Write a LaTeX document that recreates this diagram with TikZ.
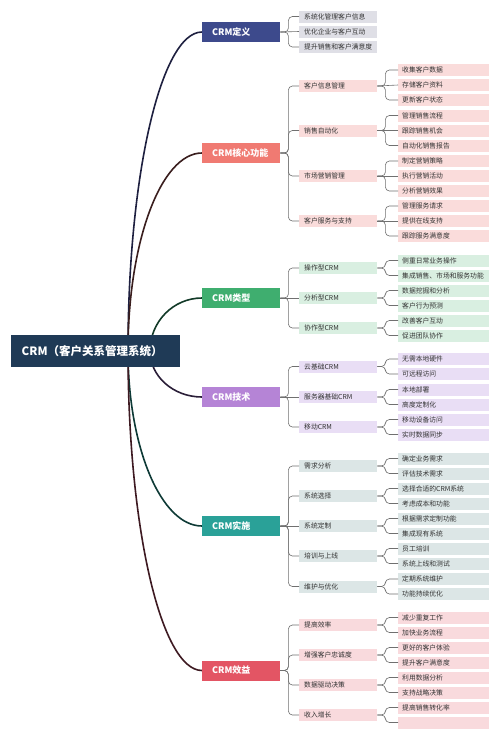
\documentclass[tikz,border=0pt]{standalone}
\usepackage{fontspec}
\setmainfont{Noto Sans CJK SC}
\usetikzlibrary{backgrounds}
\definecolor{rootc}{HTML}{1F3A56}
\definecolor{defc}{HTML}{3D4A8C}
\definecolor{defl}{HTML}{DFDFE6}
\definecolor{corec}{HTML}{F07A72}
\definecolor{corel}{HTML}{FADCDB}
\definecolor{typec}{HTML}{3FAE6F}
\definecolor{typel}{HTML}{D9EFE1}
\definecolor{techc}{HTML}{B584D6}
\definecolor{techl}{HTML}{E9DEF5}
\definecolor{implc}{HTML}{2AA198}
\definecolor{impll}{HTML}{DCE6E6}
\definecolor{benc}{HTML}{E35564}
\definecolor{benl}{HTML}{F9DADD}
\definecolor{txtc}{HTML}{333333}
\definecolor{linec}{HTML}{707070}
\definecolor{mdef}{HTML}{1E2040}
\definecolor{mcore}{HTML}{3A1E1E}
\definecolor{mtype}{HTML}{123A28}
\definecolor{mtech}{HTML}{2A1E38}
\definecolor{mimpl}{HTML}{0E3A36}
\definecolor{mben}{HTML}{3E1A22}
\newcommand{\brc}[2]{\draw[brline] (#1.east) -- ++(8,0) |- (#2.west);}
\newcommand{\brs}[2]{\draw[brline] (#1.east) -- (#2.west);}
\begin{document}
\begin{tikzpicture}[x=1pt,y=-1pt,
  rootbox/.style={fill=rootc,text=white,font=\bfseries\fontsize{11.5}{13}\selectfont,
    inner xsep=10.5pt,inner ysep=0pt,text width=148pt,align=left,minimum height=32pt,anchor=west},
  lonebox/.style={text=white,font=\bfseries\fontsize{9}{10}\selectfont,
    inner xsep=10pt,inner ysep=0pt,text width=58pt,align=left,minimum height=20pt,anchor=west},
  ltwobox/.style={text=txtc,font=\fontsize{6.8}{7.5}\selectfont,
    inner xsep=5pt,inner ysep=0pt,text width=68pt,align=left,minimum height=12pt,anchor=west},
  leafbox/.style={text=txtc,font=\fontsize{6.8}{7.5}\selectfont,
    inner xsep=4pt,inner ysep=0pt,text width=83pt,align=left,minimum height=12pt,anchor=west},
  mainline/.style={line width=1.6pt},
  brline/.style={draw=linec,line width=0.6pt,rounded corners=4pt}]
\useasboundingbox (0,0) rectangle (500,740);

% root
\node[rootbox] (root) at (11,351) {CRM（客户关系管理系统）};
\coordinate (hubA) at (128,351);
\coordinate (hubB) at (150,351);

% level 1
\node[lonebox,fill=defc] (def) at (202,32) {CRM定义};
\node[lonebox,fill=corec] (core) at (202,153) {CRM核心功能};
\node[lonebox,fill=typec] (type) at (202,298) {CRM类型};
\node[lonebox,fill=techc] (tech) at (202,397) {CRM技术};
\node[lonebox,fill=implc] (impl) at (202,526) {CRM实施};
\node[lonebox,fill=benc] (ben) at (202,670.5) {CRM效益};

% definition
\node[ltwobox,fill=defl] (d1) at (299,16.5) {系统化管理客户信息};
\node[ltwobox,fill=defl] (d2) at (299,31.5) {优化企业与客户互动};
\node[ltwobox,fill=defl] (d3) at (299,47) {提升销售和客户满意度};

% core
\node[ltwobox,fill=corel] (c1) at (299,86) {客户信息管理};
\node[ltwobox,fill=corel] (c2) at (299,130.5) {销售自动化};
\node[ltwobox,fill=corel] (c3) at (299,176) {市场营销管理};
\node[ltwobox,fill=corel] (c4) at (299,221) {客户服务与支持};
\node[leafbox,fill=corel] (c1a) at (398,70) {收集客户数据};
\node[leafbox,fill=corel] (c1b) at (398,85) {存储客户资料};
\node[leafbox,fill=corel] (c1c) at (398,100) {更新客户状态};
\node[leafbox,fill=corel] (c2a) at (398,115.5) {管理销售流程};
\node[leafbox,fill=corel] (c2b) at (398,130.5) {跟踪销售机会};
\node[leafbox,fill=corel] (c2c) at (398,145.5) {自动化销售报告};
\node[leafbox,fill=corel] (c3a) at (398,161) {制定营销策略};
\node[leafbox,fill=corel] (c3b) at (398,176) {执行营销活动};
\node[leafbox,fill=corel] (c3c) at (398,191) {分析营销效果};
\node[leafbox,fill=corel] (c4a) at (398,206) {管理服务请求};
\node[leafbox,fill=corel] (c4b) at (398,221) {提供在线支持};
\node[leafbox,fill=corel] (c4c) at (398,236) {跟踪服务满意度};

% type
\node[ltwobox,fill=typel] (t1) at (299,268) {操作型CRM};
\node[ltwobox,fill=typel] (t2) at (299,298) {分析型CRM};
\node[ltwobox,fill=typel] (t3) at (299,328) {协作型CRM};
\node[leafbox,fill=typel] (t1a) at (398,260.5) {侧重日常业务操作};
\node[leafbox,fill=typel] (t1b) at (398,275.5) {集成销售、市场和服务功能};
\node[leafbox,fill=typel] (t2a) at (398,290.5) {数据挖掘和分析};
\node[leafbox,fill=typel] (t2b) at (398,305.5) {客户行为预测};
\node[leafbox,fill=typel] (t3a) at (398,320.5) {改善客户互动};
\node[leafbox,fill=typel] (t3b) at (398,335.5) {促进团队协作};

% tech
\node[ltwobox,fill=techl] (k1) at (299,366.5) {云基础CRM};
\node[ltwobox,fill=techl] (k2) at (299,397) {服务器基础CRM};
\node[ltwobox,fill=techl] (k3) at (299,427) {移动CRM};
\node[leafbox,fill=techl] (k1a) at (398,359) {无需本地硬件};
\node[leafbox,fill=techl] (k1b) at (398,374) {可远程访问};
\node[leafbox,fill=techl] (k2a) at (398,389.5) {本地部署};
\node[leafbox,fill=techl] (k2b) at (398,404.5) {高度定制化};
\node[leafbox,fill=techl] (k3a) at (398,419.5) {移动设备访问};
\node[leafbox,fill=techl] (k3b) at (398,434.5) {实时数据同步};

% implementation
\node[ltwobox,fill=impll] (m1) at (299,466) {需求分析};
\node[ltwobox,fill=impll] (m2) at (299,496) {系统选择};
\node[ltwobox,fill=impll] (m3) at (299,526) {系统定制};
\node[ltwobox,fill=impll] (m4) at (299,556) {培训与上线};
\node[ltwobox,fill=impll] (m5) at (299,586.5) {维护与优化};
\node[leafbox,fill=impll] (m1a) at (398,458.5) {确定业务需求};
\node[leafbox,fill=impll] (m1b) at (398,473.5) {评估技术需求};
\node[leafbox,fill=impll] (m2a) at (398,488.5) {选择合适的CRM系统};
\node[leafbox,fill=impll] (m2b) at (398,503.5) {考虑成本和功能};
\node[leafbox,fill=impll] (m3a) at (398,518.5) {根据需求定制功能};
\node[leafbox,fill=impll] (m3b) at (398,533.5) {集成现有系统};
\node[leafbox,fill=impll] (m4a) at (398,548.5) {员工培训};
\node[leafbox,fill=impll] (m4b) at (398,563.5) {系统上线和测试};
\node[leafbox,fill=impll] (m5a) at (398,579) {定期系统维护};
\node[leafbox,fill=impll] (m5b) at (398,594) {功能持续优化};

% benefits
\node[ltwobox,fill=benl] (b1) at (299,625) {提高效率};
\node[ltwobox,fill=benl] (b2) at (299,655) {增强客户忠诚度};
\node[ltwobox,fill=benl] (b3) at (299,685) {数据驱动决策};
\node[ltwobox,fill=benl] (b4) at (299,715) {收入增长};
\node[leafbox,fill=benl] (b1a) at (398,617.5) {减少重复工作};
\node[leafbox,fill=benl] (b1b) at (398,632.5) {加快业务流程};
\node[leafbox,fill=benl] (b2a) at (398,647.5) {更好的客户体验};
\node[leafbox,fill=benl] (b2b) at (398,662.5) {提升客户满意度};
\node[leafbox,fill=benl] (b3a) at (398,677.5) {利用数据分析};
\node[leafbox,fill=benl] (b3b) at (398,692.5) {支持战略决策};
\node[leafbox,fill=benl] (b4a) at (398,707.5) {提高销售转化率};
\node[leafbox,fill=benl] (b4b) at (398,722.5) {};

\begin{pgfonlayer}{background}
\fill[white] (0,0) rectangle (500,740);
% main curves
\draw[mainline,draw=mdef] (hubA) .. controls +(0,-175.5) and +(-41,0) .. (def.west);
\draw[mainline,draw=mcore] (hubA) .. controls +(0,-109) and +(-41,0) .. (core.west);
\draw[mainline,draw=mtype] (hubB) .. controls +(0,-29) and +(-29,0) .. (type.west);
\draw[mainline,draw=mtech] (hubB) .. controls +(0,25) and +(-29,0) .. (tech.west);
\draw[mainline,draw=mimpl] (hubA) .. controls +(0,96) and +(-41,0) .. (impl.west);
\draw[mainline,draw=mben] (hubA) .. controls +(0,176) and +(-41,0) .. (ben.west);
\end{pgfonlayer}

% level1 -> level2
\brc{def}{d1}\brs{def}{d2}\brc{def}{d3}
\brc{core}{c1}\brc{core}{c2}\brc{core}{c3}\brc{core}{c4}
\brc{type}{t1}\brs{type}{t2}\brc{type}{t3}
\brc{tech}{k1}\brs{tech}{k2}\brc{tech}{k3}
\brc{impl}{m1}\brc{impl}{m2}\brs{impl}{m3}\brc{impl}{m4}\brc{impl}{m5}
\brc{ben}{b1}\brc{ben}{b2}\brc{ben}{b3}\brc{ben}{b4}

% level2 -> leaves
\brc{c1}{c1a}\brs{c1}{c1b}\brc{c1}{c1c}
\brc{c2}{c2a}\brs{c2}{c2b}\brc{c2}{c2c}
\brc{c3}{c3a}\brs{c3}{c3b}\brc{c3}{c3c}
\brc{c4}{c4a}\brs{c4}{c4b}\brc{c4}{c4c}
\brc{t1}{t1a}\brc{t1}{t1b}
\brc{t2}{t2a}\brc{t2}{t2b}
\brc{t3}{t3a}\brc{t3}{t3b}
\brc{k1}{k1a}\brc{k1}{k1b}
\brc{k2}{k2a}\brc{k2}{k2b}
\brc{k3}{k3a}\brc{k3}{k3b}
\brc{m1}{m1a}\brc{m1}{m1b}
\brc{m2}{m2a}\brc{m2}{m2b}
\brc{m3}{m3a}\brc{m3}{m3b}
\brc{m4}{m4a}\brc{m4}{m4b}
\brc{m5}{m5a}\brc{m5}{m5b}
\brc{b1}{b1a}\brc{b1}{b1b}
\brc{b2}{b2a}\brc{b2}{b2b}
\brc{b3}{b3a}\brc{b3}{b3b}
\brc{b4}{b4a}\brc{b4}{b4b}
\end{tikzpicture}
\end{document}
